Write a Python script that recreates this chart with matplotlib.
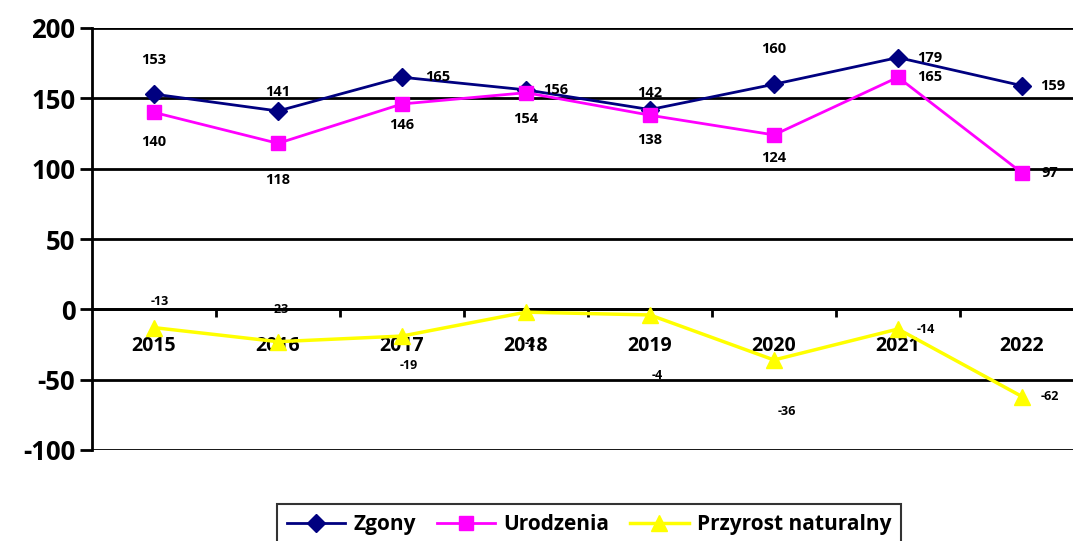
import matplotlib
matplotlib.use("Agg")
import matplotlib.pyplot as plt

plt.rcParams['font.family'] = ['Open Sans', 'DejaVu Sans']
plt.rcParams['font.weight'] = 'bold'
plt.rcParams['axes.unicode_minus'] = False

years = ["2015", "2016", "2017", "2018", "2019", "2020", "2021", "2022"]
zgony = [153, 141, 165, 156, 142, 160, 179, 159]
urodzenia = [140, 118, 146, 154, 138, 124, 165, 97]
przyrost = [-13, -23, -19, -2, -4, -36, -14, -62]

# label offsets in pixels (dx, dy up)
off_z = [(0, 34), (0, 19), (36, 0), (30, 0), (0, 17), (0, 35), (32, 0), (31, 0)]
off_u = [(0, -30), (0, -37), (0, -21), (0, -26), (0, -25), (0, -23), (32, 0), (28, 0)]
off_p = [(6, 26), (2, 32), (7, -29), (4, -31), (7, -61), (13, -52), (28, 0), (28, 0)]

W, H = 1073, 541
fig = plt.figure(figsize=(W / 100, H / 100), dpi=100)
ax = fig.add_axes([92 / W, 1 - 450 / H, (1084 - 92) / W, (450 - 28) / H])

x = list(range(len(years)))
ax.plot(x, zgony, color='#000080', lw=2, marker='D', ms=9, label='Zgony', zorder=3)
ax.plot(x, urodzenia, color='#FF00FF', lw=2, marker='s', ms=10, label='Urodzenia', zorder=3)
ax.plot(x, przyrost, color='#FFFF00', lw=2.5, marker='^', ms=12, label='Przyrost naturalny', zorder=3)

px2pt = 0.72
for series, offs, fs in [(zgony, off_z, 10.5), (urodzenia, off_u, 10.5), (przyrost, off_p, 9)]:
    for i, v in enumerate(series):
        dx, dy = offs[i]
        ax.annotate(str(v), (i, v), xytext=(dx * px2pt, dy * px2pt), textcoords='offset points',
                    ha='center', va='center', fontsize=fs, fontweight='bold', color='black', zorder=5)

ax.set_xlim(-0.5, len(years) - 0.5)
ax.set_ylim(-100, 200)
ax.set_yticks([-100, -50, 0, 50, 100, 150, 200])
ax.yaxis.grid(True, color='black', lw=2)
ax.set_axisbelow(True)
for s in ['top', 'right']:
    ax.spines[s].set_visible(False)
ax.spines['left'].set_linewidth(2)
ax.spines['bottom'].set_position(('data', 0))
ax.spines['bottom'].set_linewidth(2)
ax.tick_params(axis='y', length=9, width=2, labelsize=18.5, pad=3)
ax.set_xticks(x)
ax.set_xticklabels(years, fontsize=14, fontweight='bold')
ax.tick_params(axis='x', which='major', length=0, pad=19)
ax.set_xticks([i + 0.5 for i in range(len(years) - 1)], minor=True)
ax.tick_params(axis='x', which='minor', length=6, width=2, direction='out')
for lab in ax.get_yticklabels():
    lab.set_fontweight('bold')

leg = fig.legend(loc='upper center', bbox_to_anchor=(589 / W, 1 - 494 / H), ncol=3,
                 frameon=True, fancybox=False, edgecolor='black', fontsize=15,
                 handlelength=2.8, columnspacing=1.0, handletextpad=0.4, borderpad=0.45)
leg.get_frame().set_linewidth(1.5)
for t in leg.get_texts():
    t.set_fontweight('bold')

fig.savefig('out.png', dpi=100)
